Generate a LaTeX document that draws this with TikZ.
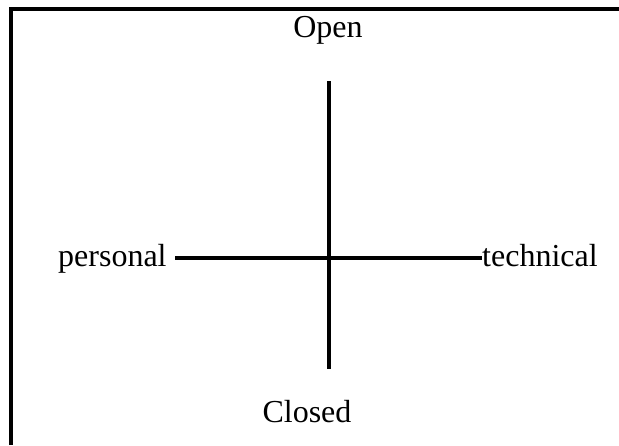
\documentclass[tikz,border=0pt]{standalone}
\usepackage{fontspec}
\setmainfont{Liberation Serif}
\begin{document}
\begin{tikzpicture}[x=1pt,y=-1pt,
  lbl/.style={inner sep=0pt,anchor=base,font=\fontsize{32}{38}\selectfont},
  axis/.style={line width=3.2pt},
  frame/.style={line width=3.4pt}]
\useasboundingbox (0,0) rectangle (619,445);
\draw[frame] (11,445) -- (11,9) -- (619,9);
\node[lbl] (open) at (328,37) {Open};
\node[lbl] (closed) at (307,422) {Closed};
\node[lbl,anchor=base west] (personal) at (58,266) {personal};
\node[lbl,anchor=base west] (technical) at (482,266) {technical};
\coordinate (top) at (329,81);
\coordinate (bot) at (329,369);
\coordinate (hl) at (175,258);
\coordinate (hr) at (482,258);
\draw[axis] (top) -- (bot);
\draw[axis] (hl) -- (hr);
\end{tikzpicture}
\end{document}
